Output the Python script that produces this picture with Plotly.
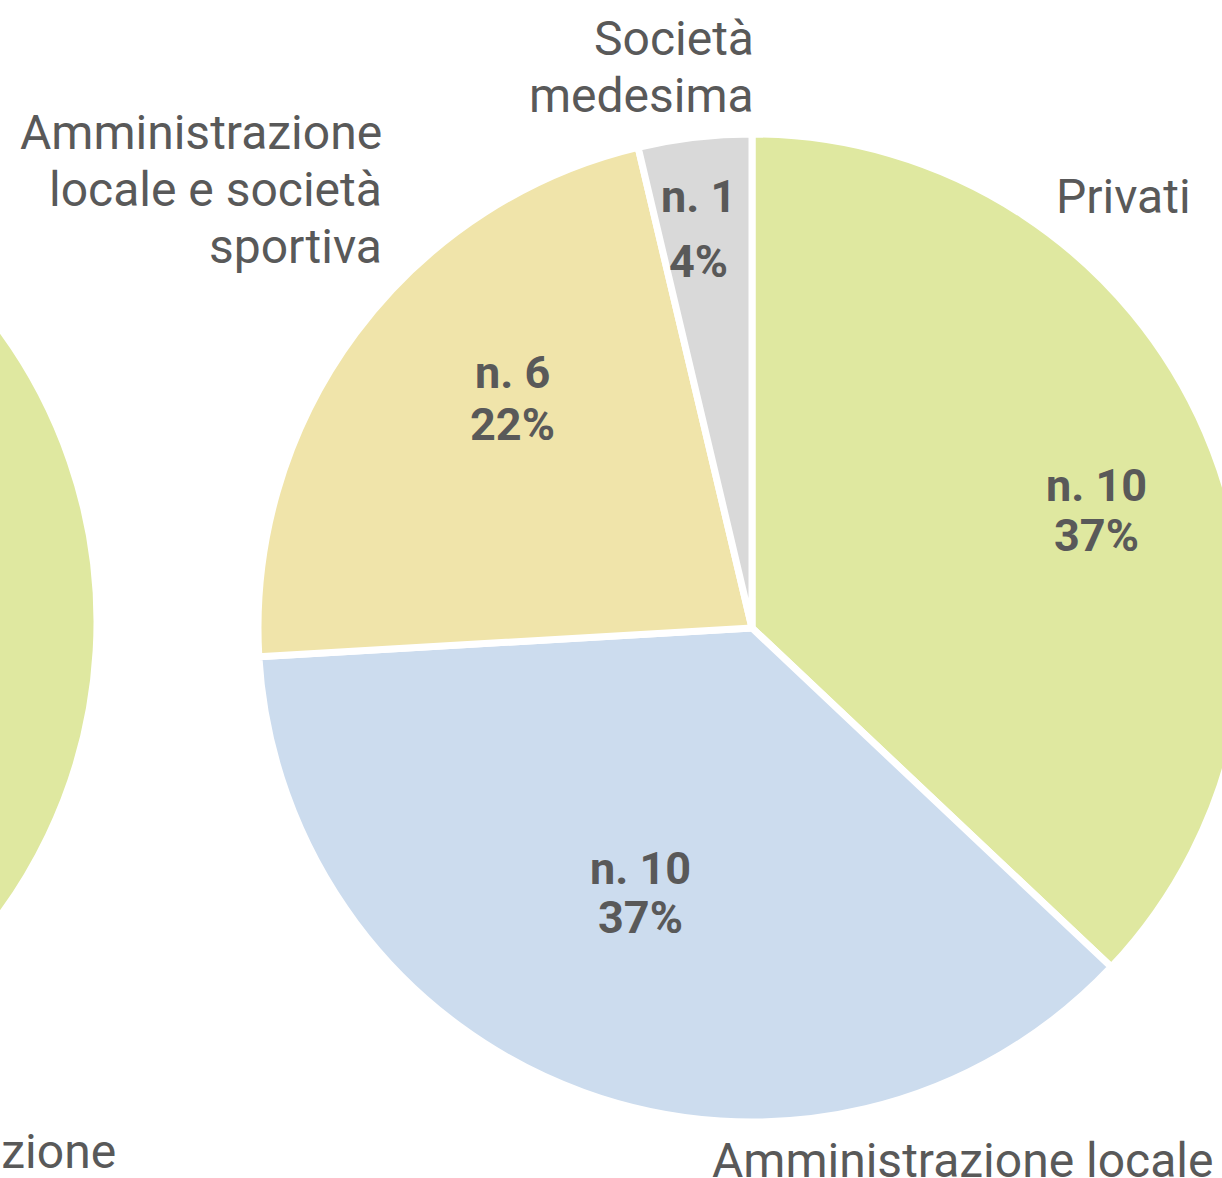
import plotly.graph_objects as go

# ---- data ----
categories = ["Privati", "Amministrazione locale",
              "Amministrazione<br>locale e società<br>sportiva",
              "Società<br>medesima"]
counts = [10, 10, 6, 1]
colors = ["#DFE8A0", "#CCDCEE", "#F0E4AA", "#D9D9D9"]

# left (mostly off-frame) companion pie – only its first slice is visible
left_categories = ["Privati", "Amministrazione"]
left_counts = [14, 13]
left_colors = ["#DFE8A0", "#CCDCEE"]

# ---- layout geometry (pixels in the visible frame) ----
W, H = 2500, 1300          # full figure
L = 1200                   # horizontal offset of the visible frame inside the figure
R = 494                    # pie radius
right_c = (752, 628)
left_c = (-397, 622)

FONT = "Roboto"
TXT = "#595959"


def domain(cx, cy):
    fx = cx + L
    return dict(x=[(fx - R) / W, (fx + R) / W],
                y=[(H - cy - R) / H, (H - cy + R) / H])


fig = go.Figure()
fig.add_trace(go.Pie(
    labels=left_categories, values=left_counts, sort=False,
    direction="clockwise", rotation=0, textinfo="none",
    marker=dict(colors=left_colors, line=dict(color="white", width=7)),
    domain=domain(*left_c), showlegend=False, hoverinfo="skip",
))
fig.add_trace(go.Pie(
    labels=categories, values=counts, sort=False,
    direction="clockwise", rotation=0, textinfo="none",
    marker=dict(colors=colors, line=dict(color="white", width=7)),
    domain=domain(*right_c), showlegend=False, hoverinfo="skip",
))

annotations = []


def add_line(text, x, baseline, size, anchor, bold=False):
    cy = baseline - 0.35 * size
    annotations.append(dict(
        text=text, x=(x + L) / W, y=1 - cy / H, xref="paper", yref="paper",
        xanchor=anchor, yanchor="middle", showarrow=False,
        font=dict(family=FONT, size=size, color=TXT,
                  weight="bold" if bold else "normal"),
    ))


# category labels: right edge x, first baseline y, line spacing (visible-frame pixels)
label_pos = {
    "Privati": (1193, 213, 57),
    "Amministrazione locale": (1215, 1177, 57),
    "Amministrazione<br>locale e società<br>sportiva": (384, 149, 57),
    "Società<br>medesima": (756, 55, 57),
}
left_label_pos = {"Amministrazione": (118, 1168, 57)}

LBL = 48
for lab, (rx, by, sp) in list(label_pos.items()) + list(left_label_pos.items()):
    for i, line in enumerate(lab.split("<br>")):
        add_line(line, rx, by + i * sp, LBL, "right")

# value labels inside slices: centre x, baseline of first and second line
value_pos = [(1096, 501, 551), (640, 884, 933), (512, 388, 440), (698, 212, 277)]
total = sum(counts)
VAL = 45
for n, (cx, b1, b2) in zip(counts, value_pos):
    add_line(f"n. {n}", cx, b1, VAL, "center", bold=True)
    add_line(f"{round(100 * n / total)}%", cx, b2, VAL, "center", bold=True)

fig.update_layout(
    width=W, height=H, margin=dict(l=0, r=0, t=0, b=0),
    paper_bgcolor="white", plot_bgcolor="white",
    annotations=annotations,
)

post = ("var gd=document.getElementById('{plot_id}');"
        "document.body.style.margin='0';document.body.style.overflow='hidden';"
        "gd.style.position='absolute';gd.style.left='-%dpx';gd.style.top='0px';" % L)

fig.write_html("out.html", post_script=post, config={"displayModeBar": False})
